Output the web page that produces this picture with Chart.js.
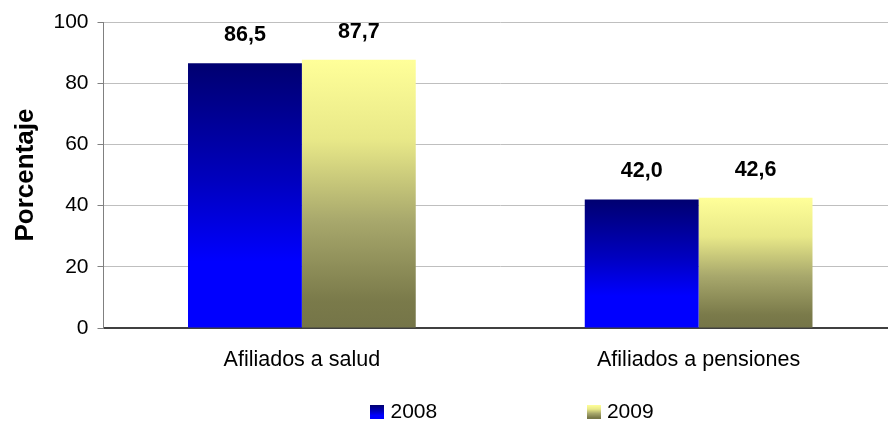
<!DOCTYPE html>
<html>
<head>
<meta charset="utf-8">
<script src="https://cdn.jsdelivr.net/npm/chart.js@4/dist/chart.umd.min.js"></script>
<style>
  html, body { margin: 0; padding: 0; background: #fff; overflow: hidden; }
  #wrap { width: 888px; height: 421px; overflow: hidden; }
</style>
</head>
<body>
<div id="wrap"><canvas id="chart" width="897" height="421"></canvas></div>
<script>
const categories = ['Afiliados a salud', 'Afiliados a pensiones'];
const seriesNames = ['2008', '2009'];
const values2008 = [86.5, 42.0];
const values2009 = [87.7, 42.6];
const yTicks = [0, 20, 40, 60, 80, 100];

const FONT = '"Liberation Sans", Arial, sans-serif';

// vertical gradient per bar, from its top down to zero
function barGradient(stops) {
    return function (ctx) {
        const chart = ctx.chart;
        const y = chart.scales.y;
        if (!y || ctx.type !== 'data') return stops[stops.length - 1][1];
        const top = y.getPixelForValue(ctx.raw);
        const bottom = y.getPixelForValue(0);
        if (!isFinite(top) || !isFinite(bottom) || top === bottom) return stops[0][1];
        const g = chart.ctx.createLinearGradient(0, top, 0, bottom);
        stops.forEach(s => g.addColorStop(s[0], s[1]));
        return g;
    };
}

const blueStops = [[0, '#000070'], [0.45, '#0000C0'], [0.75, '#0000FF'], [1, '#0000FF']];
const yellowStops = [[0, '#FFFF99'], [0.3, '#E8E888'], [0.6, '#A8A86C'], [0.9, '#7A7A4A'], [1, '#757548']];

function legendGradient(stops) {
    const c = document.createElement('canvas');
    c.width = 14; c.height = 14;
    const x = c.getContext('2d');
    const g = x.createLinearGradient(0, 0, 0, 14);
    stops.forEach(s => g.addColorStop(s[0], s[1]));
    x.fillStyle = g;
    x.fillRect(0, 0, 14, 14);
    return c;
}

const valueLabels = {
    id: 'valueLabels',
    afterDatasetsDraw(chart) {
        const ctx = chart.ctx;
        ctx.save();
        ctx.font = 'bold 21.5px ' + FONT;
        ctx.fillStyle = '#000';
        ctx.textAlign = 'center';
        ctx.textBaseline = 'middle';
        chart.data.datasets.forEach((ds, i) => {
            chart.getDatasetMeta(i).data.forEach((bar, j) => {
                ctx.fillText(ds.data[j].toFixed(1).replace('.', ','), bar.x, bar.y - 28);
            });
        });
        ctx.restore();
    }
};

// trailing spaces only widen the legend items so they sit apart like the original
const gap1 = '\u00a0'.repeat(24) + '\u2009';
const gap2 = '\u00a0'.repeat(40);

new Chart(document.getElementById('chart'), {
    type: 'bar',
    data: {
        labels: categories,
        datasets: [
            { label: seriesNames[0], data: values2008, backgroundColor: barGradient(blueStops) },
            { label: seriesNames[1], data: values2009, backgroundColor: barGradient(yellowStops) }
        ]
    },
    options: {
        responsive: false,
        animation: false,
        devicePixelRatio: 1,
        layout: { padding: { top: 22, left: 0, right: 0, bottom: 0 } },
        datasets: { bar: { categoryPercentage: 0.574, barPercentage: 1.0 } },
        scales: {
            x: {
                grid: { display: false, drawTicks: false },
                border: { color: '#404040', width: 2 },
                ticks: { color: '#000', font: { family: FONT, size: 21.5 }, padding: 19 },
                afterFit(s) { s.height = 63.5; }
            },
            y: {
                min: 0, max: 100,
                afterBuildTicks(s) { s.ticks = yTicks.map(v => ({ value: v })); },
                grid: { color: '#BFBFBF', tickLength: 6, tickColor: '#808080' },
                border: { color: '#808080', width: 1 },
                ticks: { color: '#000', font: { family: FONT, size: 21 }, padding: 9 },
                title: {
                    display: true, text: 'Porcentaje', color: '#000',
                    font: { family: FONT, size: 26, weight: 'bold' }, padding: { top: 10, bottom: 0 }
                },
                afterFit(s) { s.width = 103.5; }
            }
        },
        plugins: {
            legend: {
                position: 'bottom',
                align: 'end',
                fullSize: false,
                maxHeight: 29.5,
                labels: {
                    color: '#000',
                    font: { family: FONT, size: 21 },
                    padding: 10,
                    boxWidth: 5, boxHeight: 14,
                    usePointStyle: true,
                    generateLabels() {
                        return [
                            { text: seriesNames[0] + gap1, pointStyle: legendGradient(blueStops), datasetIndex: 0, lineWidth: 0, strokeStyle: 'transparent' },
                            { text: seriesNames[1] + gap2, pointStyle: legendGradient(yellowStops), datasetIndex: 1, lineWidth: 0, strokeStyle: 'transparent' }
                        ];
                    }
                }
            },
            tooltip: { enabled: false }
        }
    },
    plugins: [valueLabels]
});
</script>
</body>
</html>
